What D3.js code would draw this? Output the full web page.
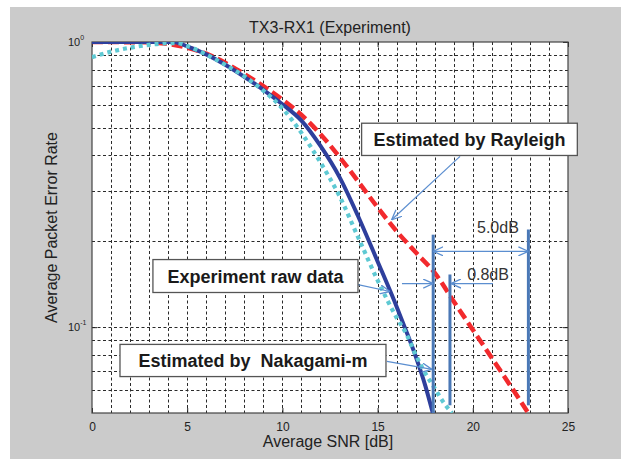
<!DOCTYPE html>
<html><head><meta charset="utf-8">
<script src="https://cdn.jsdelivr.net/npm/d3@7"></script>
<style>
html,body{margin:0;padding:0;background:#fff;}
svg{display:block;}
</style></head>
<body>
<script>
// ---------- data ----------
const title = "TX3-RX1 (Experiment)";
const xLabel = "Average SNR [dB]";
const yLabel = "Average Packet Error Rate";
const xTicks = [0, 5, 10, 15, 20, 25];
const yTicks = [1, 0.1];
const yTickExp = ["0", "-1"];
const xGrid = [1,2,3,4,5,6,7,8,9,10,11,12,13,14,15,16,17,18,19,20,21,22,23,24];
const yGrid = [0.9,0.8,0.7,0.6,0.5,0.4,0.3,0.2,0.1,0.09,0.08,0.07,0.06];

// Rayleigh estimate (red dashed)
const snrRayleigh = [0, 3, 4, 5, 6, 7, 8, 9, 10, 11, 12, 13, 14, 15, 16, 17, 18, 19, 20, 21, 22, 23];
const perRayleigh = [1.0, 0.997, 0.985, 0.955, 0.91, 0.845, 0.772, 0.70, 0.628, 0.555, 0.475, 0.395, 0.323, 0.263, 0.217, 0.183, 0.155, 0.123, 0.098, 0.078, 0.062, 0.049];
// Experiment raw data (blue solid)
const snrRaw = [0, 4.3, 5, 6, 7, 8, 9, 10, 11, 12, 13, 14, 15, 16, 16.5, 17, 17.5, 17.9];
const perRaw = [1.0, 1.0, 0.965, 0.905, 0.832, 0.755, 0.68, 0.605, 0.53, 0.432, 0.336, 0.243, 0.17, 0.118, 0.097, 0.079, 0.0625, 0.05];
// Nakagami-m estimate (cyan dotted)
const snrNaka = [0, 1, 2, 3, 4, 4.5, 5, 6, 7, 8, 9, 10, 11, 12, 13, 14, 15, 16, 16.5, 17, 17.5, 18, 18.5, 18.9];
const perNaka = [0.885, 0.925, 0.955, 0.977, 0.99, 0.99, 0.968, 0.905, 0.832, 0.758, 0.675, 0.585, 0.48, 0.378, 0.288, 0.205, 0.146, 0.108, 0.095, 0.08, 0.069, 0.061, 0.054, 0.05];

// annotations (data coordinates)
const boxLabels = ["Estimated by Rayleigh", "Experiment raw data", "Estimated by\u00a0 Nakagami-m"];
const boxX0 = [14.16, 3.2, 1.47];
const boxX1 = [25.49, 13.97, 15.44];
const boxY0 = [0.519, 0.1726, 0.087];
const boxY1 = [0.40, 0.1323, 0.0671];
const arrowFrom = [[19.33, 0.397], [13.97, 0.141], [15.49, 0.0759]];
const arrowTo   = [[15.74, 0.238], [15.65, 0.1334], [17.86, 0.0711]];
const markerSnr = [17.92, 18.8, 22.92];
const markerTop = [0.211, 0.153, 0.22];
const markerBot = [0.05, 0.0532, 0.0532];
const gapLabels = ["5.0dB", "0.8dB"];
const gapLabelX = [21.32, 20.8];
const gapLabelY = [0.2145, 0.1469];

// ---------- drawing ----------
const W = 625, H = 459;
const svg = d3.select("body").append("svg").attr("width", W).attr("height", H);
const defs = svg.append("defs");

svg.append("rect").attr("x", 10).attr("y", 7).attr("width", 611).attr("height", H - 7).attr("fill", "#cbcbcb");

const x = d3.scaleLinear().domain([0, 25]).range([92, 568]);
const y = d3.scaleLog().domain([0.05, 1]).range([413, 42]);

svg.append("rect").attr("x", x(0)).attr("y", y(1)).attr("width", x(25) - x(0)).attr("height", y(0.05) - y(1)).attr("fill", "#fff");

defs.append("clipPath").attr("id", "clip").append("rect")
  .attr("x", x(0)).attr("y", y(1)).attr("width", x(25) - x(0)).attr("height", y(0.05) - y(1));

// grid
const grid = svg.append("g").attr("stroke", "#2a2a2a").attr("stroke-width", 1).attr("stroke-dasharray", "3,2.5");
grid.selectAll("line.v").data(xGrid).join("line").attr("class", "v")
  .attr("x1", d => Math.round(x(d)) + 0.5).attr("x2", d => Math.round(x(d)) + 0.5)
  .attr("y1", y(1)).attr("y2", y(0.05));
grid.selectAll("line.h").data(yGrid).join("line").attr("class", "h")
  .attr("y1", d => Math.round(y(d)) + 0.5).attr("y2", d => Math.round(y(d)) + 0.5)
  .attr("x1", x(0)).attr("x2", x(25));

// axes
const fontNarrow = "'Liberation Sans Narrow','Arial Narrow','Liberation Sans',Arial,sans-serif";
const axB = svg.append("g").attr("transform", `translate(0,${y(0.05)})`)
  .call(d3.axisBottom(x).tickValues(xTicks).tickSizeInner(-5).tickSizeOuter(0).tickPadding(9).tickFormat(d3.format("d")));
const axT = svg.append("g").attr("transform", `translate(0,${y(1)})`)
  .call(d3.axisTop(x).tickValues(xTicks).tickSizeInner(-5).tickSizeOuter(0).tickFormat(""));
const axL = svg.append("g").attr("transform", `translate(${x(0)},0)`)
  .call(d3.axisLeft(y).tickValues(yTicks).tickSizeInner(-5).tickSizeOuter(0).tickFormat(""));
const axR = svg.append("g").attr("transform", `translate(${x(25)},0)`)
  .call(d3.axisRight(y).tickValues(yTicks).tickSizeInner(-5).tickSizeOuter(0).tickFormat(""));
[axB, axT, axL, axR].forEach(a => {
  a.select(".domain").remove();
  a.selectAll(".tick line").attr("stroke", "#222");
});
axB.selectAll(".tick text").attr("font-family", fontNarrow).attr("font-size", 12).attr("fill", "#222");
axL.selectAll(".tick text").each(function(d, i) {
  const t = d3.select(this).attr("font-family", fontNarrow).attr("fill", "#222")
    .attr("x", -24).attr("text-anchor", "start").attr("dy", "0.3em").attr("font-size", 11);
  t.append("tspan").text("10");
  t.append("tspan").attr("font-size", 7).attr("dy", "-0.9em").text(yTickExp[i]);
});

// frame
svg.append("rect").attr("x", x(0)).attr("y", y(1)).attr("width", x(25) - x(0)).attr("height", y(0.05) - y(1))
  .attr("fill", "none").attr("stroke", "#444").attr("stroke-width", 1.2);

// curves
const line = d3.line().x(d => x(d[0])).y(d => y(d[1])).curve(d3.curveMonotoneX);
const curves = svg.append("g").attr("clip-path", "url(#clip)");
curves.append("path").datum(d3.zip(snrRayleigh, perRayleigh)).attr("d", line)
  .attr("fill", "none").attr("stroke", "#f22a2d").attr("stroke-width", 4.5).attr("stroke-dasharray", "11,5");
curves.append("path").datum(d3.zip(snrRaw, perRaw)).attr("d", line)
  .attr("fill", "none").attr("stroke", "#2e3f9c").attr("stroke-width", 4);
curves.append("path").datum(d3.zip(snrNaka, perNaka)).attr("d", line)
  .attr("fill", "none").attr("stroke", "#5ec9d3").attr("stroke-width", 4.2).attr("stroke-dasharray", "4,4");

// marker arrowheads
const arrowCol = "#5b8ed0";
defs.append("marker").attr("id", "ah").attr("viewBox", "0 0 10 10").attr("refX", 10).attr("refY", 5)
  .attr("markerUnits", "userSpaceOnUse").attr("markerWidth", 10).attr("markerHeight", 10)
  .attr("orient", "auto-start-reverse")
  .append("path").attr("d", "M0,0.5 L10,5 L0,9.5").attr("fill", "none").attr("stroke", arrowCol).attr("stroke-width", 1.3);

// vertical markers
svg.append("g").selectAll("line").data(markerSnr).join("line")
  .attr("x1", d => x(d)).attr("x2", d => x(d))
  .attr("y1", (d, i) => y(markerTop[i])).attr("y2", (d, i) => y(markerBot[i]))
  .attr("stroke", "#4a78b6").attr("stroke-width", 3);

// 5.0dB double arrow
svg.append("line").attr("x1", x(markerSnr[0])).attr("x2", x(markerSnr[2]))
  .attr("y1", y(0.1845)).attr("y2", y(0.1845))
  .attr("stroke", arrowCol).attr("stroke-width", 1.2)
  .attr("marker-start", "url(#ah)").attr("marker-end", "url(#ah)");
// 0.8dB inward arrows
svg.append("line").attr("x1", x(16.28)).attr("x2", x(markerSnr[0]))
  .attr("y1", y(0.1422)).attr("y2", y(0.1422))
  .attr("stroke", arrowCol).attr("stroke-width", 1.2).attr("marker-end", "url(#ah)");
svg.append("line").attr("x1", x(21.06)).attr("x2", x(markerSnr[1]) + 1)
  .attr("y1", y(0.1422)).attr("y2", y(0.1422))
  .attr("stroke", arrowCol).attr("stroke-width", 1.2).attr("marker-end", "url(#ah)");

svg.append("g").selectAll("text").data(gapLabels).join("text")
  .attr("x", (d, i) => x(gapLabelX[i])).attr("y", (d, i) => y(gapLabelY[i]))
  .attr("text-anchor", "middle").attr("font-family", fontNarrow).attr("font-size", 16).attr("fill", "#333")
  .text(d => d);

// callout arrows
svg.append("g").selectAll("line").data(arrowFrom).join("line")
  .attr("x1", d => x(d[0])).attr("y1", d => y(d[1]))
  .attr("x2", (d, i) => x(arrowTo[i][0])).attr("y2", (d, i) => y(arrowTo[i][1]))
  .attr("stroke", arrowCol).attr("stroke-width", 1.2).attr("marker-end", "url(#ah)");

// callout boxes
const bx = svg.append("g").selectAll("g").data(boxLabels).join("g");
bx.append("rect")
  .attr("x", (d, i) => x(boxX0[i])).attr("y", (d, i) => y(boxY0[i]))
  .attr("width", (d, i) => x(boxX1[i]) - x(boxX0[i])).attr("height", (d, i) => y(boxY1[i]) - y(boxY0[i]))
  .attr("fill", "#fff").attr("stroke", "#555").attr("stroke-width", 1.3);
bx.append("text")
  .attr("x", (d, i) => (x(boxX0[i]) + x(boxX1[i])) / 2)
  .attr("y", (d, i) => (y(boxY0[i]) + y(boxY1[i])) / 2 + 6.5)
  .attr("text-anchor", "middle").attr("font-family", "'Liberation Sans',Arial,sans-serif")
  .attr("font-weight", "bold").attr("font-size", 18).attr("fill", "#1a1a1a")
  .text(d => d);

// titles
svg.append("text").attr("x", 330).attr("y", 32.5).attr("text-anchor", "middle")
  .attr("font-family", "'Liberation Sans',Arial,sans-serif").attr("font-size", 16).attr("fill", "#222").text(title);
svg.append("text").attr("x", 328).attr("y", 447).attr("text-anchor", "middle")
  .attr("font-family", "'Liberation Sans',Arial,sans-serif").attr("font-size", 16).attr("fill", "#222").text(xLabel);
svg.append("text").attr("transform", "translate(57,227.5) rotate(-90)").attr("text-anchor", "middle")
  .attr("font-family", "'Liberation Sans',Arial,sans-serif").attr("font-size", 16).attr("fill", "#222").text(yLabel);
</script>
</body></html>
